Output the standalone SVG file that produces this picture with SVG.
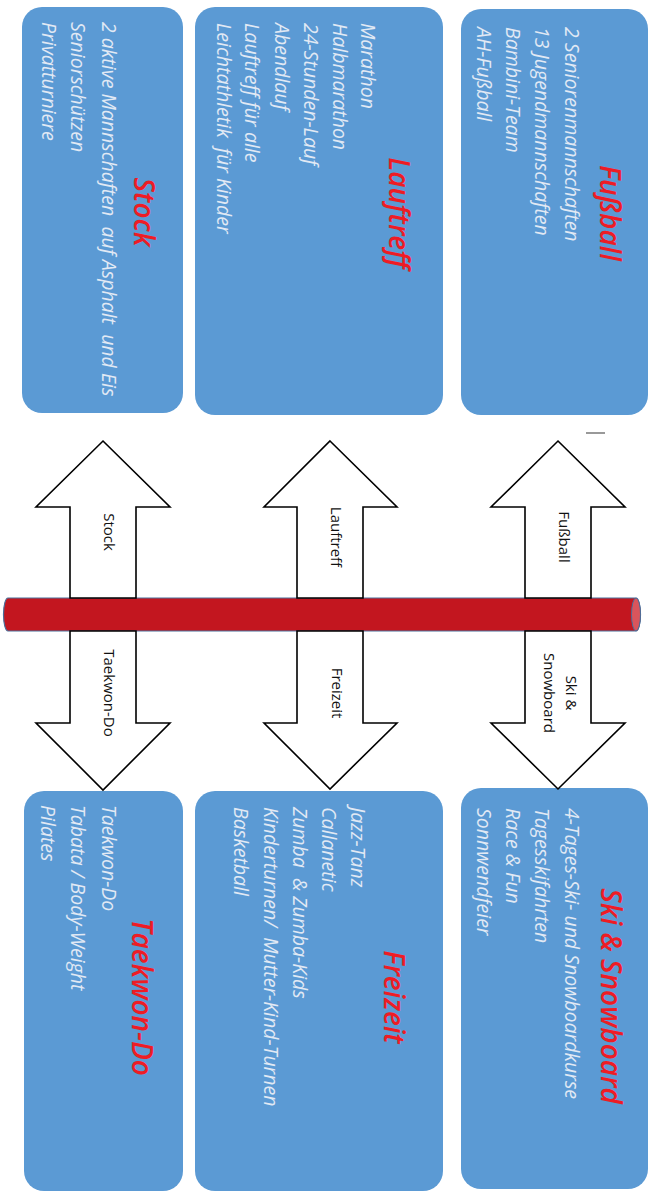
<svg xmlns="http://www.w3.org/2000/svg" width="655" height="1194" viewBox="0 0 655 1194">
<style>
.box{fill:#5B9AD4}
.item{font-family:"Open Sans","Noto Sans",sans-serif;font-style:italic;font-size:19.5px;fill:#E1E9F4;dominant-baseline:central;white-space:pre}
.title{font-family:"Open Sans","Noto Sans",sans-serif;font-style:italic;font-weight:600;font-size:28px;fill:#EE1C25;dominant-baseline:central;text-anchor:middle}
.lbl{font-family:"Open Sans","Noto Sans",sans-serif;font-size:15px;fill:#111;text-anchor:middle;dominant-baseline:central}
.arrow{fill:#fff;stroke:#000;stroke-width:1.6;stroke-linejoin:miter}
</style>
<rect width="655" height="1194" fill="#fff"/>

<g id="fussball">
<rect class="box" x="461" y="9" width="187" height="406" rx="20"/>
<text class="title" transform="translate(611,213) rotate(90)">Fußball</text>
<text class="item" transform="translate(572,27) rotate(90)">2 Seniorenmannschaften</text>
<text class="item" transform="translate(542,27) rotate(90)">13 Jugendmannschaften</text>
<text class="item" transform="translate(513,27) rotate(90)">Bambini-Team</text>
<text class="item" transform="translate(484,27) rotate(90)">AH-Fußball</text>
</g>

<g id="lauftreff">
<rect class="box" x="195" y="7" width="248" height="408" rx="20"/>
<text class="title" transform="translate(400,213) rotate(90)">Lauftreff</text>
<text class="item" transform="translate(368,23) rotate(90)">Marathon</text>
<text class="item" transform="translate(340,23) rotate(90)">Halbmarathon</text>
<text class="item" transform="translate(311,23) rotate(90)">24-Stunden-Lauf</text>
<text class="item" transform="translate(282,23) rotate(90)">Abendlauf</text>
<text class="item" transform="translate(252,23) rotate(90)">Lauftreff für alle</text>
<text class="item" transform="translate(224,23) rotate(90)">Leichtathletik  für Kinder</text>
</g>

<g id="stock">
<rect class="box" x="22" y="7" width="161" height="406" rx="20"/>
<text class="title" transform="translate(145,212) rotate(90)">Stock</text>
<text class="item" transform="translate(109,22) rotate(90)">2 aktive Mannschaften  auf Asphalt  und Eis</text>
<text class="item" transform="translate(78,22) rotate(90)">Seniorschützen</text>
<text class="item" transform="translate(49,22) rotate(90)">Privatturniere</text>
</g>

<g id="ski">
<rect class="box" x="461" y="788" width="187" height="401" rx="20"/>
<text class="title" transform="translate(612,996) rotate(90)">Ski &amp; Snowboard</text>
<text class="item" transform="translate(572,808) rotate(90)">4-Tages-Ski- und Snowboardkurse</text>
<text class="item" transform="translate(542,808) rotate(90)">Tagesskifahrten</text>
<text class="item" transform="translate(513,808) rotate(90)">Race &amp; Fun</text>
<text class="item" transform="translate(484,808) rotate(90)">Sonnwendfeier</text>
</g>

<g id="freizeit">
<rect class="box" x="195" y="791" width="248" height="400" rx="20"/>
<text class="title" transform="translate(395,997) rotate(90)">Freizeit</text>
<text class="item" transform="translate(358,807) rotate(90)">Jazz-Tanz</text>
<text class="item" transform="translate(329,807) rotate(90)">Callanetic</text>
<text class="item" transform="translate(300,807) rotate(90)">Zumba  &amp; Zumba-Kids</text>
<text class="item" transform="translate(271,807) rotate(90)">Kinderturnen/  Mutter-Kind-Turnen</text>
<text class="item" transform="translate(241,807) rotate(90)">Basketball</text>
</g>

<g id="taekwondo">
<rect class="box" x="24" y="791" width="159" height="400" rx="20"/>
<text class="title" transform="translate(143,997) rotate(90)">Taekwon-Do</text>
<text class="item" transform="translate(109,805) rotate(90)">Taekwon-Do</text>
<text class="item" transform="translate(78,805) rotate(90)">Tabata / Body-Weight</text>
<text class="item" transform="translate(48,805) rotate(90)">Pilates</text>
</g>

<g id="bar">
<path d="M8,598 H636 A4.5,16.5 0 0 1 636,631 H8 A4.5,16.5 0 0 1 8,598 Z" fill="#C3161F" stroke="#4A6E9A" stroke-width="1.2"/>
<ellipse cx="636" cy="614.5" rx="4.5" ry="16.5" fill="#D9555C" stroke="#4A6E9A" stroke-width="1"/>
</g>

<g id="connectors">
<polygon class="arrow" points="103,441 170,507 136,507 136,598 70,598 70,507 36,507"/>
<polygon class="arrow" points="70,631 136,631 136,723 170,723 103,790 36,723 70,723"/>
<polygon class="arrow" points="330,441 397,507 363,507 363,598 297,598 297,507 264,507"/>
<polygon class="arrow" points="297,631 363,631 363,723 397,723 330,789 264,723 297,723"/>
<polygon class="arrow" points="558,441 625,507 591,507 591,598 525,598 525,507 491,507"/>
<polygon class="arrow" points="525,631 591,631 591,723 625,723 558,789 491,723 525,723"/>
<text class="lbl" transform="translate(110,532) rotate(90)">Stock</text>
<text class="lbl" transform="translate(110,693) rotate(90)">Taekwon-Do</text>
<text class="lbl" transform="translate(337,537) rotate(90)">Lauftreff</text>
<text class="lbl" transform="translate(338,693) rotate(90)">Freizeit</text>
<text class="lbl" transform="translate(565,537) rotate(90)">Fußball</text>
<text class="lbl" transform="translate(572,693) rotate(90)">Ski &amp;</text>
<text class="lbl" transform="translate(550,693) rotate(90)">Snowboard</text>
</g>

<line x1="586" y1="433" x2="605" y2="433" stroke="#777" stroke-width="1.5"/>
</svg>
